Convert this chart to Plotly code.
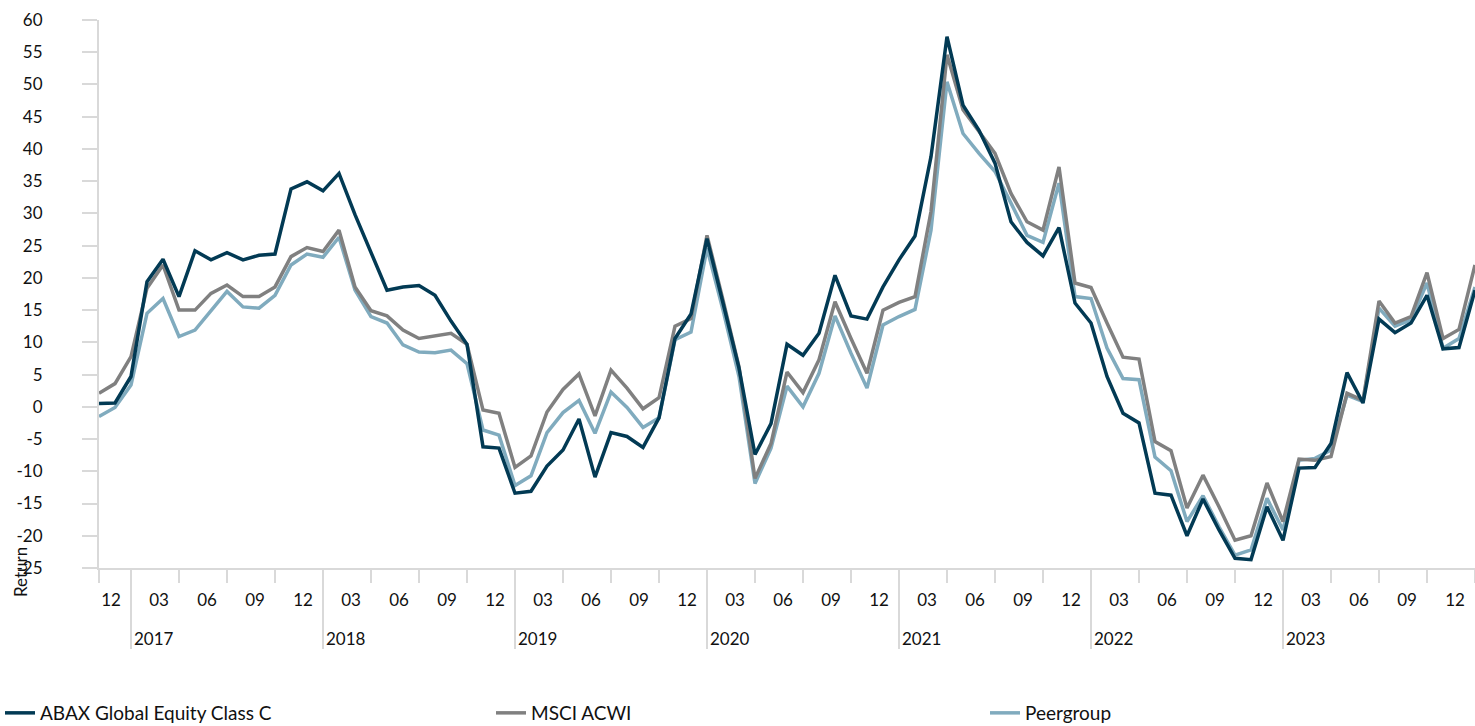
import plotly.graph_objects as go

# ---- data (monthly returns, %) ----
months = ["2016-11", "2016-12"] + [f"{y}-{m:02d}" for y in range(2017, 2024) for m in range(1, 13)] + ["2024-01"]

abax = [0.5, 0.6, 4.7, 19.4, 22.9, 17.1, 24.2, 22.8, 23.9, 22.8, 23.5, 23.7,
        33.8, 34.9, 33.5, 36.2, 29.8, 24.0, 18.1, 18.6, 18.8, 17.3, 13.3, 9.7,
        -6.2, -6.4, -13.4, -13.1, -9.2, -6.7, -1.9, -10.9, -4.0, -4.6, -6.3, -1.7,
        10.6, 14.4, 26.1, 16.1, 6.0, -7.4, -2.6, 9.7, 8.0, 11.4, 20.4, 14.1,
        13.6, 18.6, 22.8, 26.5, 38.8, 57.4, 46.8, 42.9, 37.8, 28.7, 25.5, 23.4,
        27.8, 16.1, 13.0, 4.7, -1.0, -2.5, -13.4, -13.7, -20.0, -14.3, -19.1, -23.5,
        -23.7, -15.5, -20.7, -9.5, -9.4, -5.7, 5.3, 0.6, 13.6, 11.5, 13.0, 17.3,
        9.0, 9.2, 18.1]

msci = [2.1, 3.6, 7.8, 18.4, 22.0, 15.0, 15.0, 17.6, 18.9, 17.1, 17.1, 18.6,
        23.3, 24.7, 24.1, 27.4, 18.6, 14.9, 14.1, 11.9, 10.6, 11.0, 11.4, 9.7,
        -0.5, -1.0, -9.4, -7.6, -0.8, 2.7, 5.1, -1.4, 5.7, 2.9, -0.3, 1.4,
        12.5, 13.7, 26.6, 16.6, 6.2, -11.1, -5.7, 5.4, 2.2, 7.3, 16.3, 10.6,
        5.2, 15.0, 16.2, 17.1, 30.3, 54.6, 46.1, 42.7, 39.3, 33.1, 28.7, 27.4,
        37.2, 19.2, 18.5, 13.0, 7.7, 7.4, -5.4, -6.8, -15.7, -10.6, -15.5, -20.7,
        -20.0, -11.8, -17.8, -8.1, -8.3, -7.7, 2.1, 1.0, 16.4, 13.0, 14.0, 20.8,
        10.6, 12.0, 22.0]

peer = [-1.5, -0.1, 3.4, 14.5, 16.8, 10.9, 11.9, 14.8, 17.9, 15.5, 15.3, 17.3,
        22.0, 23.7, 23.2, 26.3, 18.1, 14.0, 13.0, 9.6, 8.5, 8.4, 8.8, 6.7,
        -3.6, -4.4, -12.2, -10.7, -4.0, -0.9, 1.0, -4.1, 2.3, -0.1, -3.2, -1.7,
        10.4, 11.6, 24.6, 15.0, 4.7, -11.9, -6.4, 3.2, 0.0, 5.2, 14.1, 8.3,
        2.9, 12.7, 14.0, 15.1, 27.4, 50.4, 42.4, 39.3, 36.5, 31.6, 26.6, 25.5,
        34.7, 17.1, 16.8, 9.1, 4.4, 4.2, -7.8, -9.9, -17.8, -13.8, -18.6, -23.0,
        -22.2, -14.2, -19.1, -8.3, -8.0, -6.7, 1.8, 0.8, 15.3, 12.5, 13.5, 19.2,
        9.1, 10.6, 18.6]

quarter_labels = ["12"] + ["03", "06", "09", "12"] * 7
year_labels = ["2017", "2018", "2019", "2020", "2021", "2022", "2023"]
y_ticks = list(range(-25, 61, 5))

series_names = ["ABAX Global Equity Class C", "MSCI ACWI", "Peergroup"]
colors = ["#023a54", "#808080", "#80abbe"]
legend_ids = ["legend", "legend2", "legend3"]

# ---- positions on the category index ----
idx = list(range(len(months)))
year_start = [months.index(f"{y}-01") for y in year_labels]
qtr_ticks = [0] + [year_start[0] + 3 * k for k in range(29)]
label_pos = [0.75 + 3 * k for k in range(len(quarter_labels))]

FONT = "Lato"
TXT = "#111111"
AX = "#d9d9d9"
W, H = 1475, 726
L, R, T, B = 99, 0, 20, 158
PW, PH = W - L - R, H - T - B

fig = go.Figure()
vals = [abax, msci, peer]
for k in [2, 1, 0]:  # draw peer first, ABAX on top
    fig.add_trace(go.Scatter(
        x=idx, y=vals[k], mode="lines", name=series_names[k],
        line=dict(color=colors[k], width=3.5), legend=legend_ids[k],
        text=months, hovertemplate="%{text}: %{y}<extra>" + series_names[k] + "</extra>"))

# invisible carriers for extra axes
fig.add_trace(go.Scatter(x=[0, 86], y=[None, None], xaxis="x2", showlegend=False, hoverinfo="skip"))
fig.add_trace(go.Scatter(x=[0, 86], y=[None, None], xaxis="x3", showlegend=False, hoverinfo="skip"))

rng = [0, len(months) - 1]
leg_y = (H - 713) / H
leg_common = dict(orientation="h", xref="container", yref="container",
                  y=leg_y, xanchor="left", yanchor="middle",
                  font=dict(family=FONT, size=19, color=TXT), itemwidth=30,
                  bgcolor="rgba(0,0,0,0)")
leg_x = [0 / W, 491 / W, 985 / W]

fig.update_layout(
    width=W, height=H,
    margin=dict(l=L, r=R, t=T, b=B, autoexpand=False),
    paper_bgcolor="white", plot_bgcolor="white",
    font=dict(family=FONT, size=17, color=TXT),
    showlegend=True,
    legend=dict(leg_common, x=leg_x[0]),
    legend2=dict(leg_common, x=leg_x[1]),
    legend3=dict(leg_common, x=leg_x[2]),
    xaxis=dict(range=rng, showgrid=False, zeroline=False, showline=True,
               linecolor=AX, linewidth=2, tickmode="array", tickvals=qtr_ticks,
               ticks="outside", ticklen=13, tickwidth=2, tickcolor=AX,
               showticklabels=False),
    xaxis2=dict(range=rng, overlaying="x", anchor="y", side="bottom",
                showgrid=False, zeroline=False, showline=False,
                tickmode="array", tickvals=label_pos, ticktext=quarter_labels,
                ticks="", ticklabelstandoff=20,
                tickfont=dict(family=FONT, size=17, color=TXT)),
    xaxis3=dict(range=rng, overlaying="x", anchor="y", side="bottom",
                showgrid=False, zeroline=False, showline=False,
                tickmode="array", tickvals=year_start, ticks="outside",
                ticklen=80, tickwidth=2, tickcolor=AX, showticklabels=False),
    yaxis=dict(range=[-25, 60], tickmode="array", tickvals=y_ticks,
               ticktext=[str(v) for v in y_ticks],
               showgrid=False, zeroline=False,
               showline=True, linecolor=AX, linewidth=2, ticks="outside",
               ticklen=15, tickwidth=2, tickcolor=AX, ticklabelstandoff=36,
               tickfont=dict(family=FONT, size=17, color=TXT)),
)

for ys, lab in zip(year_start, year_labels):
    fig.add_annotation(x=ys, y=-70 / PH, xref="x", yref="paper", text=lab,
                       showarrow=False, xanchor="left", yanchor="middle", xshift=1,
                       font=dict(family=FONT, size=17, color=TXT))

fig.add_annotation(x=-(L - 20) / PW, y=-4 / PH, xref="paper", yref="paper", text="Return",
                   showarrow=False, textangle=-90, xanchor="center", yanchor="middle",
                   font=dict(family=FONT, size=17, color=TXT))

fig.write_html("out.html", config={"displayModeBar": False},
               post_script="document.body.style.margin='0';")
